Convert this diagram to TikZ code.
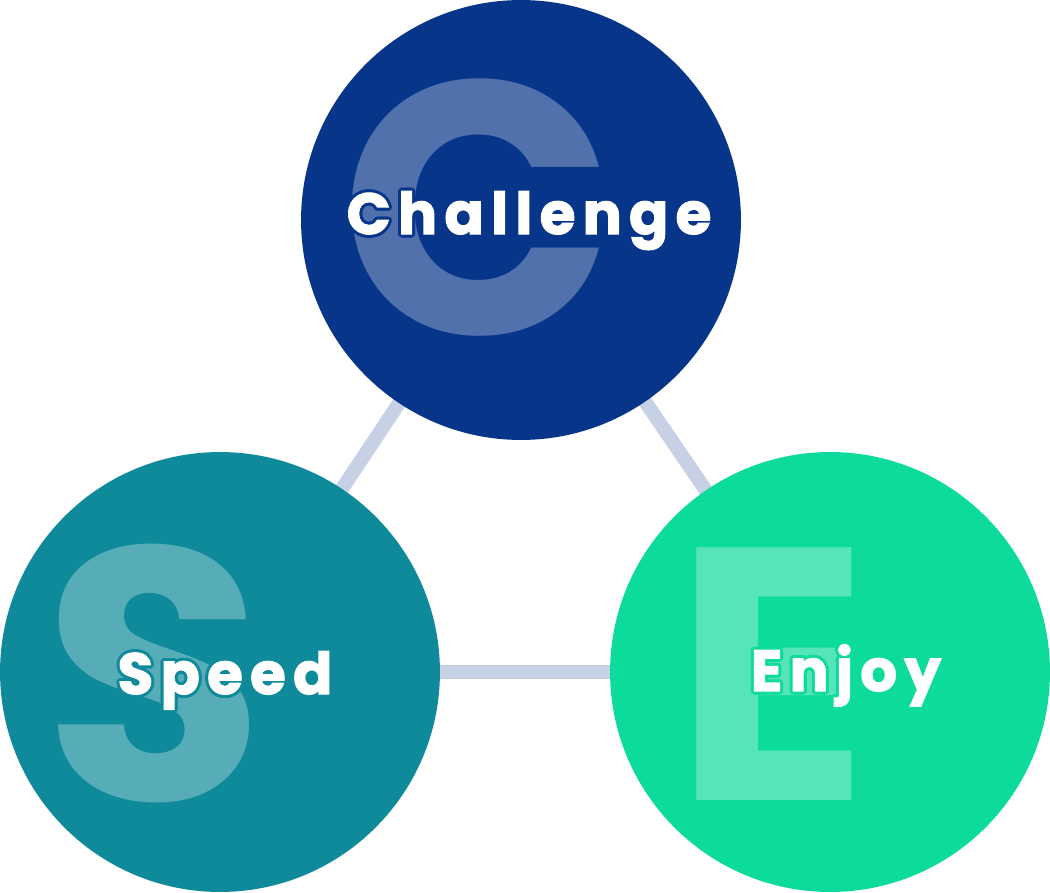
\documentclass[tikz,border=0pt]{standalone}
\usepackage{fontspec}
\setmainfont{Poppins}
\newfontfamily\wordfont[LetterSpace=12.5,FakeBold=2]{Poppins}
\usetikzlibrary{backgrounds}

\definecolor{chblue}{HTML}{06358A}
\definecolor{spteal}{HTML}{0E8A9A}
\definecolor{engreen}{HTML}{0CDB9B}
\definecolor{linkgrey}{HTML}{C7D1E5}

\tikzset{
  bubble/.style={circle,fill=#1,minimum size=8.8cm,inner sep=0pt},
  bigletter/.style={text=white,text opacity=0.3,inner sep=0pt,anchor=base,
    font=\bfseries\fontsize{205}{205}\selectfont},
  word/.style={inner sep=0pt,anchor=base,
    font=\wordfont\bfseries\fontsize{33}{33}\selectfont},
  link/.style={draw=linkgrey,line width=0.28cm}
}

\begin{document}
\begin{tikzpicture}[x=0.02cm,y=-0.02cm]
    \useasboundingbox (0,0) rectangle (1050,892);

    % Circles
    \node[bubble=chblue] (challenge) at (521,220) {};
    \node[bubble=spteal] (speed) at (220,672) {};
    \node[bubble=engreen] (enjoy) at (830,672) {};

    % Links behind the circles
    \begin{scope}[on background layer]
      \draw[link] (challenge.center) -- (speed.center);
      \draw[link] (speed.center) -- (enjoy.center);
      \draw[link] (enjoy.center) -- (challenge.center);
    \end{scope}

    % Big initials
    \node[bigletter] (bigc) at (478,334) {C};
    \node[bigletter] (bigs) at (154,800) {S};
    \node[bigletter] (bige) at (772,800) {E};

    % Word positions
    \coordinate (chpos) at (529,234);
    \coordinate (sppos) at (225,694);
    \coordinate (enpos) at (846,691);

    % Outline round the words
    \foreach \a in {0,30,...,330} {
      \node[word,text=chblue] at ([shift={(\a:0.06cm)}]chpos) {Challenge};
      \node[word,text=spteal] at ([shift={(\a:0.06cm)}]sppos) {Speed};
      \node[word,text=engreen] at ([shift={(\a:0.06cm)}]enpos) {Enjoy};
    }

    % Words
    \node[word,text=white] (chword) at (chpos) {Challenge};
    \node[word,text=white] (spword) at (sppos) {Speed};
    \node[word,text=white] (enword) at (enpos) {Enjoy};
\end{tikzpicture}
\end{document}
